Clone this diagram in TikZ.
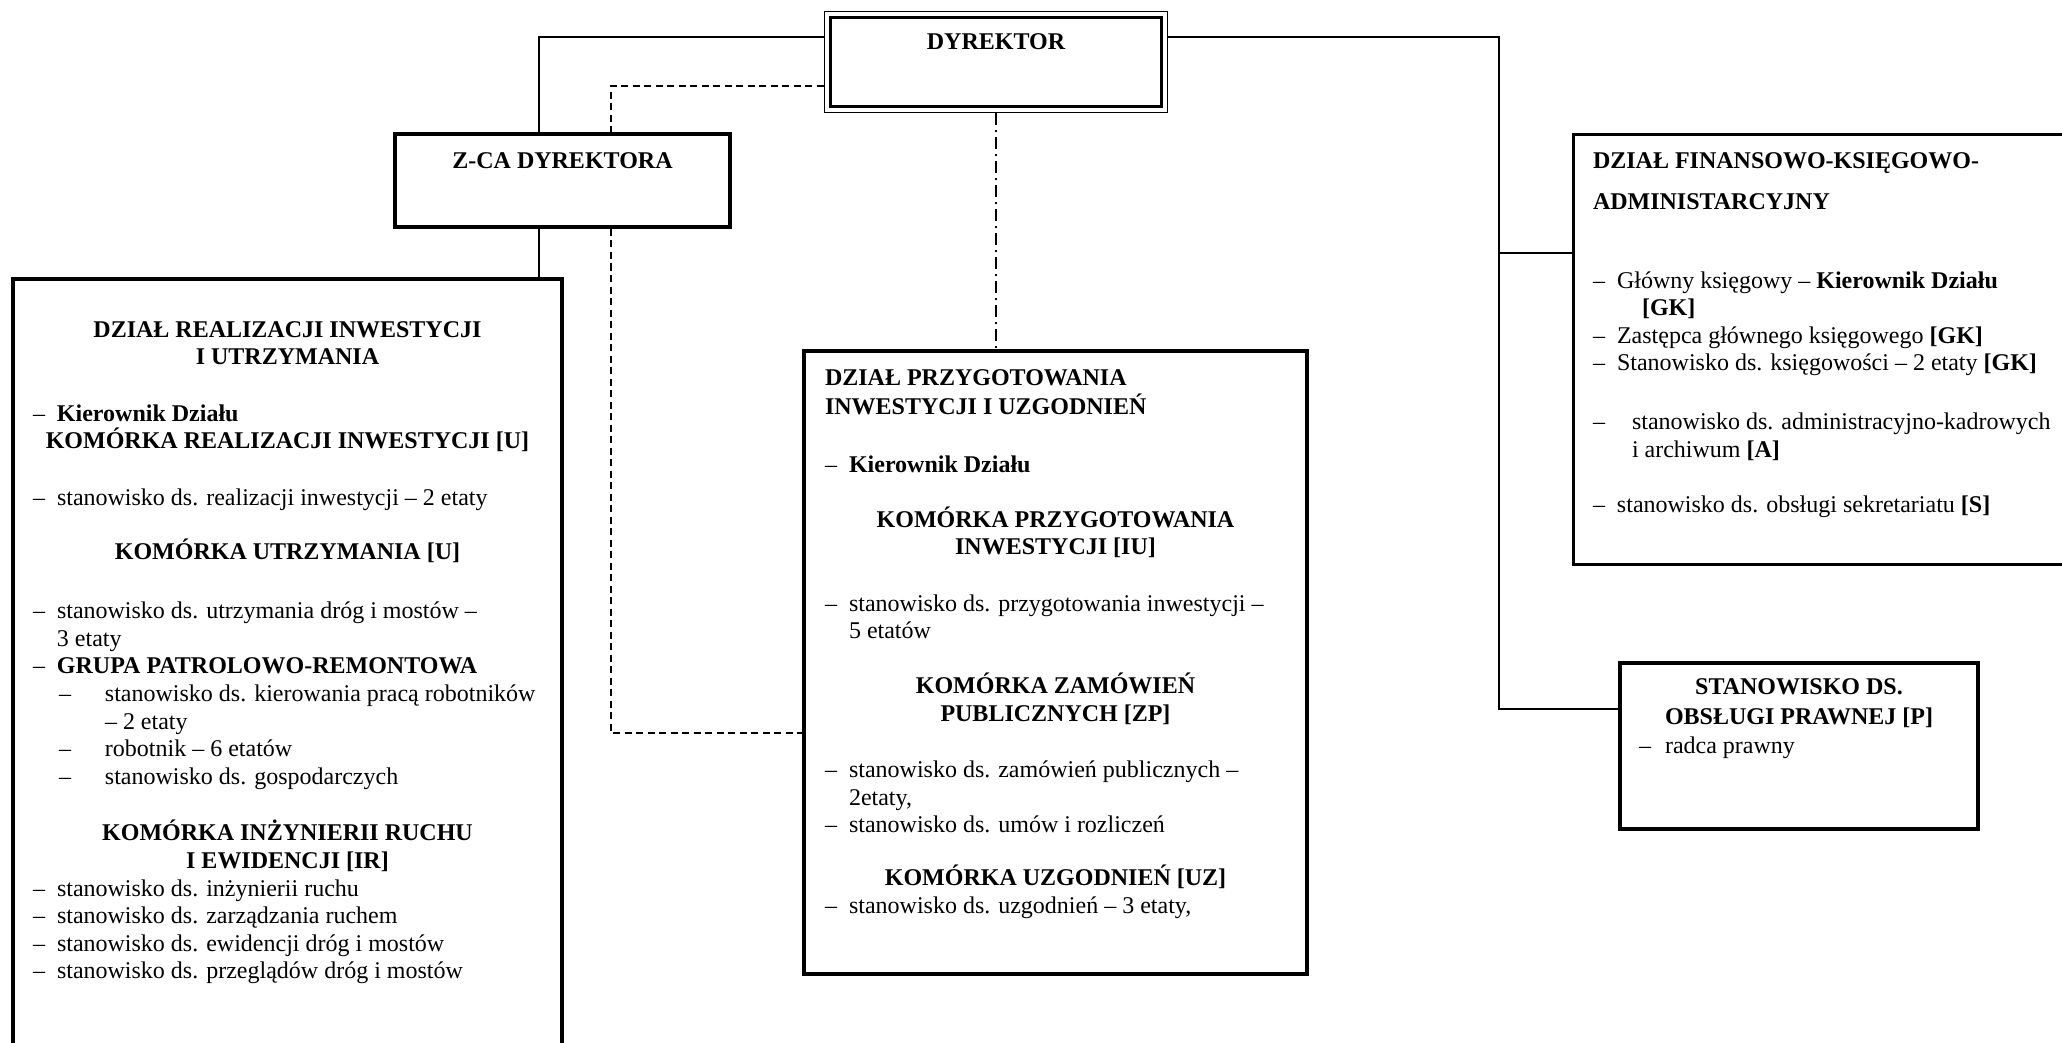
\documentclass[tikz,border=0pt]{standalone}
\usepackage{fontspec}
\setmainfont{Liberation Serif}
\usepackage{tikz}

\newcommand{\punkt}[2][24pt]{\par\hangindent=#1\hangafter=1\noindent\makebox[#1][l]{–}#2}
\newcommand{\podpunkt}[1]{\par\hangindent=72pt\hangafter=1\noindent\hspace*{26pt}\makebox[46pt][l]{–}#1}
\newcommand{\naglowek}[1]{\par{\centering\bfseries #1\par}}
\newcommand{\przerwa}[1]{\par\vspace{#1}}

\begin{document}
\begin{tikzpicture}[x=1pt,y=-1pt,font=\fontsize{24}{27.6}\selectfont]
    \tikzstyle{box} = [rectangle, draw, inner ysep=0pt]
    \tikzstyle{polacz} = [draw, line width=1.6pt]
    \tikzstyle{przerywana} = [draw, line width=1.6pt, dash pattern=on 7pt off 4.5pt]
    \tikzstyle{kreskakropka} = [draw, line width=1.4pt, dash pattern=on 12pt off 5pt on 2pt off 5pt]

    % Page
    \useasboundingbox (0,0) rectangle (2062,1043);
    \fill[white] (0,0) rectangle (2062,1043);
    \clip (0,0) rectangle (2062,1043);

    % Top
    \node[box, line width=1.3pt, inner xsep=0pt] (dyr) at (996,62)
      {\parbox[c][100.8pt][t]{342.8pt}{\raggedright\vspace*{19pt}\naglowek{\strut DYREKTOR}}};
    \draw[line width=3pt] ([shift={(6.5,6.5)}]dyr.north west) rectangle ([shift={(-6.5,-6.5)}]dyr.south east);

    \node[box, line width=4pt, inner xsep=0pt] (zca) at (562.5,180.5)
      {\parbox[c][93pt][t]{335pt}{\raggedright\vspace*{14.7pt}\naglowek{\strut Z-CA DYREKTORA}}};

    % Departments
    \node[box, line width=4pt, inner xsep=20pt] (dzr) at (287.5,669.5)
      {\parbox[c][781pt][t]{509pt}{\raggedright\vspace*{38.7pt}
        \naglowek{\strut DZIAŁ REALIZACJI INWESTYCJI\\ I UTRZYMANIA}
        \przerwa{29pt}\punkt{\textbf{Kierownik Działu}}
        \naglowek{KOMÓRKA REALIZACJI INWESTYCJI [U]}
        \przerwa{29pt}\punkt{stanowisko ds. realizacji inwestycji – 2 etaty}
        \przerwa{26pt}\naglowek{KOMÓRKA UTRZYMANIA [U]}
        \przerwa{32pt}\punkt{stanowisko ds. utrzymania dróg i mostów –\newline 3 etaty}
        \punkt{\textbf{GRUPA PATROLOWO-REMONTOWA}}
        \podpunkt{stanowisko ds. kierowania pracą robotników\newline – 2 etaty}
        \podpunkt{robotnik – 6 etatów}
        \podpunkt{stanowisko ds. gospodarczych}
        \przerwa{29pt}\naglowek{KOMÓRKA INŻYNIERII RUCHU\\ I EWIDENCJI [IR]}
        \punkt{stanowisko ds. inżynierii ruchu}
        \punkt{stanowisko ds. zarządzania ruchem}
        \punkt{stanowisko ds. ewidencji dróg i mostów}
        \punkt{stanowisko ds. przeglądów dróg i mostów}}};

    \node[box, line width=3.5pt, inner xsep=21pt] (dpi) at (1055.5,662.5)
      {\parbox[c][623pt][t]{461pt}{\raggedright\vspace*{14.7pt}
        {\bfseries\strut DZIAŁ PRZYGOTOWANIA\\ INWESTYCJI I UZGODNIEŃ\par}
        \przerwa{30pt}\punkt{\textbf{Kierownik Działu}}
        \przerwa{27pt}\naglowek{KOMÓRKA PRZYGOTOWANIA\\ INWESTYCJI [IU]}
        \przerwa{29pt}\punkt{stanowisko ds. przygotowania inwestycji –\newline 5 etatów}
        \przerwa{27pt}\naglowek{KOMÓRKA ZAMÓWIEŃ\\ PUBLICZNYCH [ZP]}
        \przerwa{29pt}\punkt{stanowisko ds. zamówień publicznych –\newline 2etaty,}
        \punkt{stanowisko ds. umów i rozliczeń}
        \przerwa{25pt}\naglowek{KOMÓRKA UZGODNIEŃ [UZ]}
        \punkt{stanowisko ds. uzgodnień – 3 etaty,}}};

    \node[box, line width=3pt, inner xsep=19.5pt] (dfk) at (1836.75,349.5)
      {\parbox[c][430pt][t]{487.5pt}{\raggedright\vspace*{14.2pt}
        {\bfseries\strut DZIAŁ FINANSOWO-KSIĘGOWO-\\[13.4pt] ADMINISTARCYJNY\par}
        \przerwa{51.4pt}\punkt{Główny księgowy – \textbf{Kierownik Działu}\newline\hspace*{25pt}\textbf{[GK]}}
        \punkt{Zastępca głównego księgowego \textbf{[GK]}}
        \punkt{Stanowisko ds. księgowości – 2 etaty \textbf{[GK]}}
        \przerwa{31pt}\punkt[39pt]{stanowisko ds. administracyjno-kadrowych\newline i archiwum \textbf{[A]}}
        \przerwa{28pt}\punkt{stanowisko ds. obsługi sekretariatu \textbf{[S]}}}};

    \node[box, line width=3.5pt, inner xsep=19pt] (sop) at (1799,746)
      {\parbox[c][166pt][t]{320pt}{\raggedright\vspace*{11.7pt}
        \naglowek{\strut STANOWISKO DS.\\[2.4pt] OBSŁUGI PRAWNEJ [P]}
        \przerwa{1.4pt}\punkt[26pt]{radca prawny}}};

    % Connections
    \coordinate (zcaL) at ([xshift=-23.5pt]zca.north);
    \coordinate (zcaLd) at ([xshift=-23.5pt]zca.south);
    \coordinate (zcaP) at ([xshift=48.5pt]zca.north);
    \coordinate (zcaPd) at ([xshift=48.5pt]zca.south);
    \coordinate (rozgalezienie) at (1499,709);
    \coordinate (dfkWe) at ([yshift=96.5pt]dfk.west);

    \draw[polacz] ([yshift=25pt]dyr.west) -| (zcaL);
    \draw[polacz] (zcaLd) -- (zcaLd |- dzr.north);
    \draw[przerywana] ([yshift=-24pt]dyr.west) -| (zcaP);
    \draw[przerywana] (zcaPd) |- ([yshift=-70.5pt]dpi.west);
    \draw[kreskakropka] (dyr.south) -- (dyr.south |- dpi.north);
    \draw[polacz] ([yshift=25pt]dyr.east) -| (rozgalezienie) -- ([yshift=37pt]sop.west);
    \draw[polacz] (dfkWe -| rozgalezienie) -- (dfkWe);
\end{tikzpicture}
\end{document}
